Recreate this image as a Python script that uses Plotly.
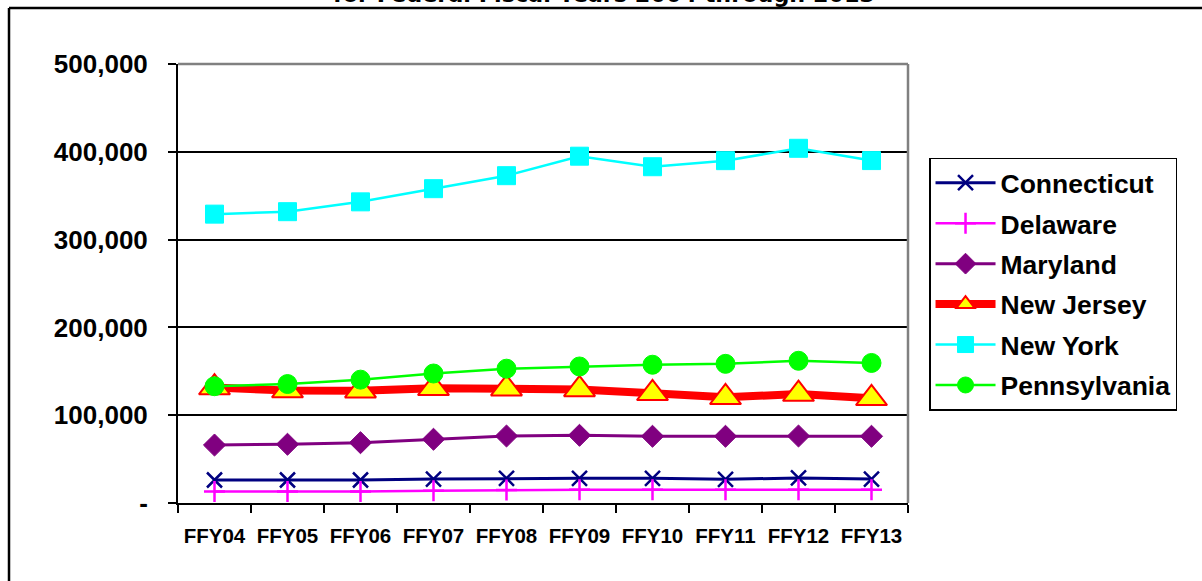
import plotly.graph_objects as go

years = ["FFY04", "FFY05", "FFY06", "FFY07", "FFY08", "FFY09", "FFY10", "FFY11", "FFY12", "FFY13"]
connecticut = [26200, 26200, 26200, 27300, 28100, 28100, 28100, 27000, 28500, 27300]
delaware = [13000, 13000, 13200, 14000, 14800, 15000, 15000, 15000, 15000, 15000]
maryland = [66000, 66900, 68700, 72600, 76300, 77100, 76000, 76000, 76300, 76000]
new_jersey = [131500, 128000, 127900, 130600, 130200, 129400, 124900, 120400, 124100, 119200]
new_york = [329000, 331800, 343000, 358000, 372800, 395000, 383000, 389900, 404000, 390000]
pennsylvania = [133000, 135500, 140500, 147500, 153000, 155500, 157500, 158500, 162000, 159500]

y_ticks = [0, 100000, 200000, 300000, 400000, 500000]
y_tick_text = ["-", "100,000", "200,000", "300,000", "400,000", "500,000"]
title_text = "for Federal Fiscal Years 2004 through 2013"

FONT = "Liberation Sans, Arial, sans-serif"

series = [
    ("Connecticut", connecticut, dict(color="#000080", width=3),
     dict(symbol="x-thin", size=15, line=dict(color="#000080", width=2.5))),
    ("Delaware", delaware, dict(color="#FF00FF", width=2.5),
     dict(symbol="cross-thin", size=15, line=dict(color="#FF00FF", width=2.5))),
    ("Maryland", maryland, dict(color="#800080", width=3),
     dict(symbol="diamond", size=17, color="#800080", line=dict(color="#800080", width=1))),
    ("New Jersey", new_jersey, dict(color="#FF0000", width=8),
     dict(symbol="triangle-up", size=27, color="#FFFF00", line=dict(color="#FF0000", width=2))),
    ("New York", new_york, dict(color="#00FFFF", width=2.5),
     dict(symbol="square", size=18, color="#00FFFF", line=dict(color="#00FFFF", width=1))),
    ("Pennsylvania", pennsylvania, dict(color="#00FF00", width=2.5),
     dict(symbol="circle", size=19, color="#00FF00", line=dict(color="#00FF00", width=1))),
]

fig = go.Figure()
for name, vals, line, marker in series:
    fig.add_trace(go.Scatter(
        x=years, y=vals, name=name, mode="lines+markers",
        line=line, marker=marker, legendgroup=name,
        cliponaxis=False,
    ))

fig.update_layout(
    width=1202, height=581,
    margin=dict(l=178, r=294, t=64, b=78),
    paper_bgcolor="white", plot_bgcolor="white",
    showlegend=True,
    legend=dict(
        x=1.0288, y=0.787, xanchor="left", yanchor="top",
        bordercolor="black", borderwidth=1.5, bgcolor="white",
        font=dict(family=FONT, size=26.5, color="black", weight="bold"),
        tracegroupgap=3, itemwidth=60, traceorder="grouped",
    ),
    xaxis=dict(
        type="category", range=[-0.5, len(years) - 0.5],
        showgrid=False, showline=True, linecolor="black", linewidth=2,
        ticks="outside", tickson="boundaries", ticklen=8, tickwidth=2, tickcolor="black",
        tickfont=dict(family=FONT, size=20.5, color="black", weight="bold"),
        tickangle=0, automargin=False,
        ticklabelstandoff=13, fixedrange=True,
    ),
    yaxis=dict(
        range=[0, 500000], tickvals=y_ticks, ticktext=y_tick_text,
        showgrid=True, gridcolor="black", gridwidth=1.5,
        showline=True, linecolor="black", linewidth=2, zeroline=False,
        ticks="outside", ticklen=8, tickwidth=2, tickcolor="black",
        tickfont=dict(family=FONT, size=26, color="black", weight="bold"),
        automargin=False,
        ticklabelstandoff=15, fixedrange=True,
    ),
    shapes=[
        dict(type="line", xref="paper", yref="paper", x0=0, x1=1, y0=1, y1=1,
             line=dict(color="#808080", width=2.5), layer="above"),
        dict(type="line", xref="paper", yref="paper", x0=1, x1=1, y0=0, y1=1,
             line=dict(color="#808080", width=2.5), layer="above"),
        dict(type="line", xref="paper", yref="paper", x0=-0.2315, x1=1.41, y0=1.1276, y1=1.1276,
             line=dict(color="black", width=2.5)),
        dict(type="line", xref="paper", yref="paper", x0=-0.2315, x1=-0.2315, y0=1.1276, y1=-0.2,
             line=dict(color="black", width=2.5)),
    ],
    annotations=[
        dict(text=title_text, xref="paper", yref="paper", x=0.5836, y=1.1276,
             xanchor="center", yanchor="bottom", yshift=-1, showarrow=False,
             font=dict(family="DejaVu Sans", size=22.3, color="black", weight="bold")),
    ],
)

fig.write_html("out.html", config={"displayModeBar": False},
               post_script="document.body.style.margin='0';")
